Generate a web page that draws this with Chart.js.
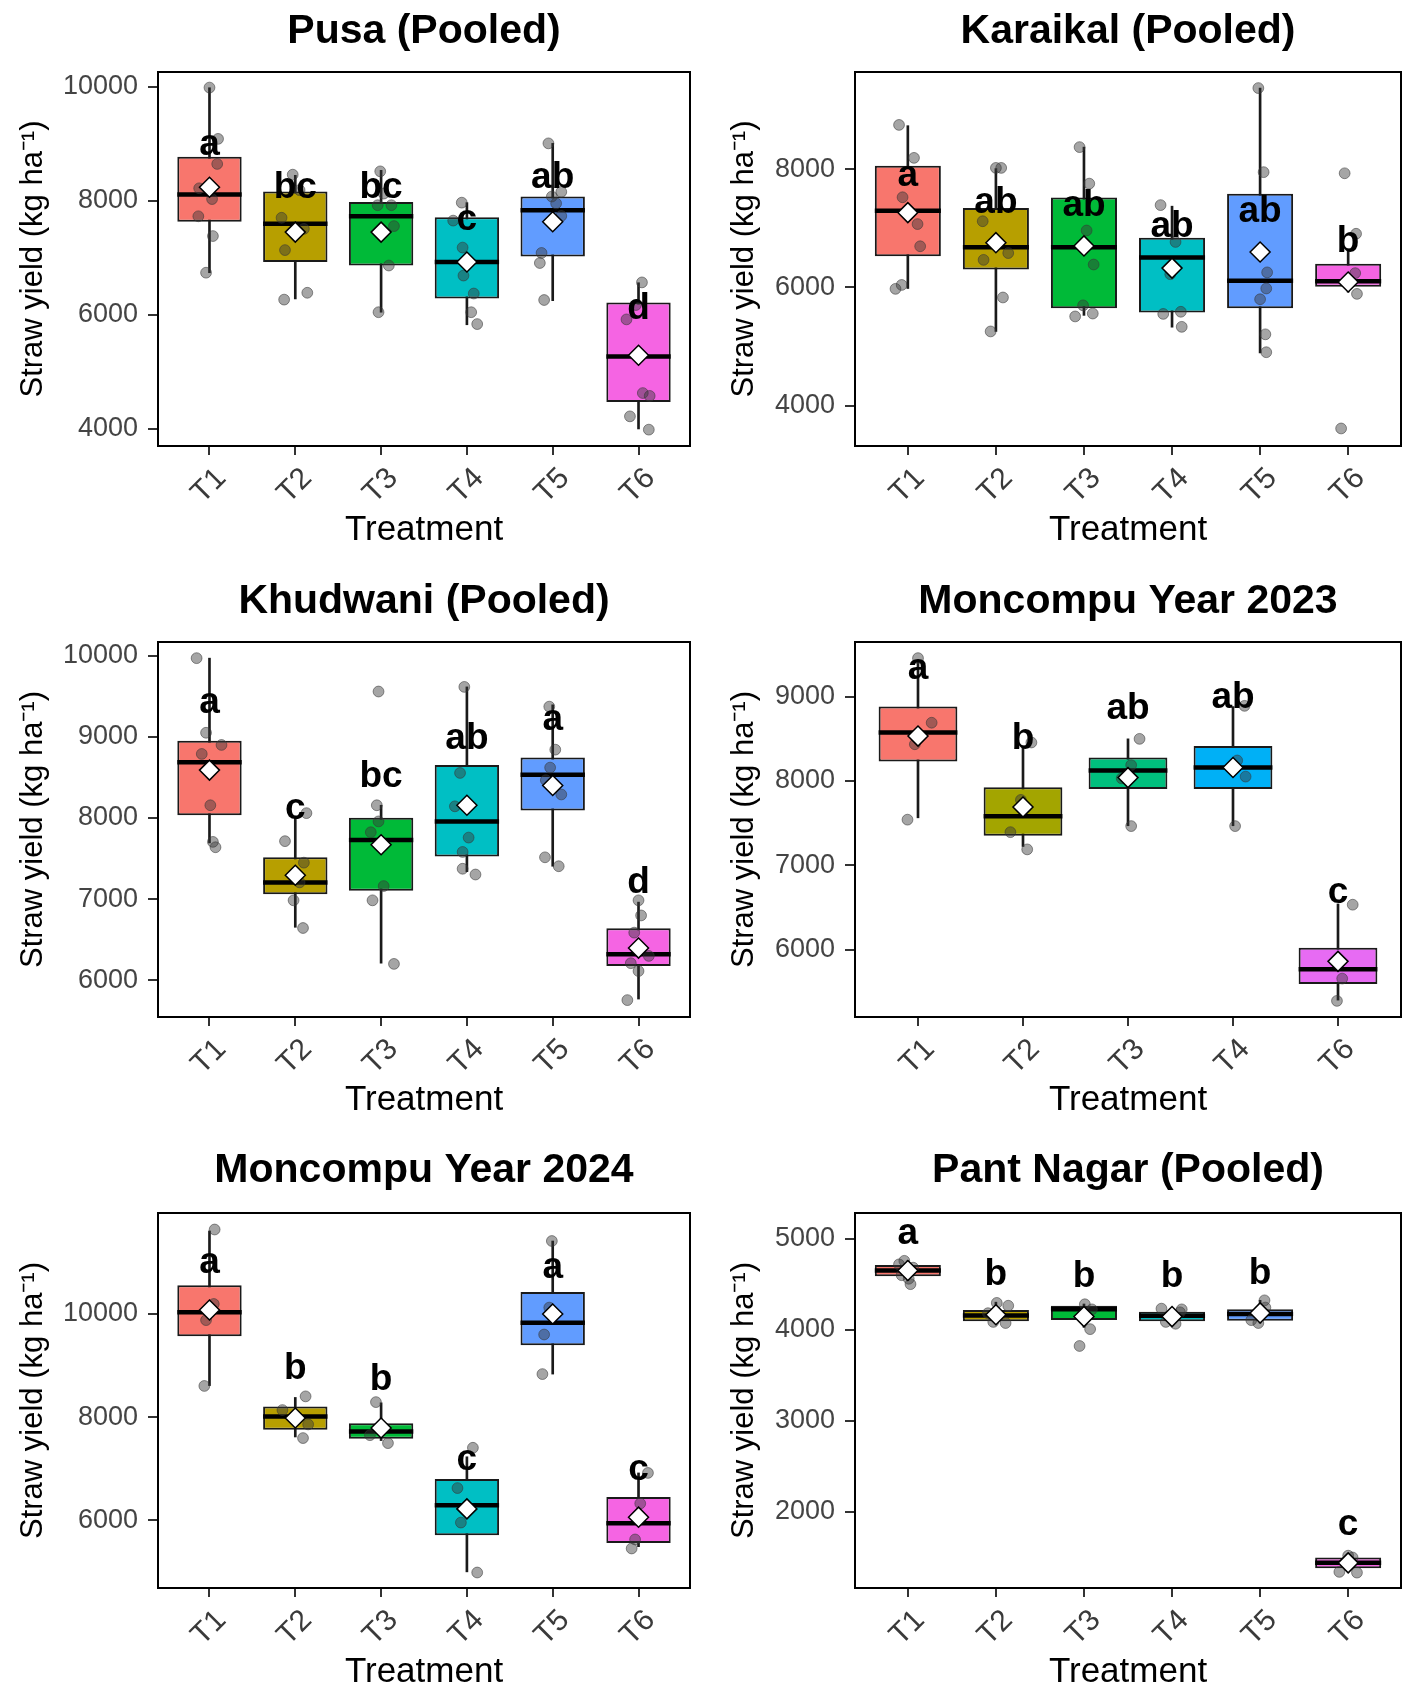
<!DOCTYPE html>
<html><head><meta charset="utf-8">
<script src="https://cdn.jsdelivr.net/npm/chart.js@4.4.0/dist/chart.umd.min.js"></script>
<style>
html,body{margin:0;padding:0;background:#fff;}
#wrap{position:relative;width:1417px;height:1697px;overflow:hidden;background:#fff;}
canvas{position:absolute;}
</style></head><body><div id="wrap">
<canvas id="c1" width="709" height="560" style="left:0px;top:0px"></canvas>
<canvas id="c2" width="708" height="560" style="left:709px;top:0px"></canvas>
<canvas id="c3" width="709" height="560" style="left:0px;top:570px"></canvas>
<canvas id="c4" width="708" height="560" style="left:709px;top:570px"></canvas>
<canvas id="c5" width="709" height="560" style="left:0px;top:1137px"></canvas>
<canvas id="c6" width="708" height="560" style="left:709px;top:1137px"></canvas>
</div>
<script>
const FONT = '"Liberation Sans", Arial, Helvetica, sans-serif';
const hue6 = ['#F8766D', '#B79F00', '#00BA38', '#00BFC4', '#619CFF', '#F564E3'];
const hue5 = ['#F8766D', '#A3A500', '#00BF7D', '#00B0F6', '#E76BF3'];
const cats6 = ['T1', 'T2', 'T3', 'T4', 'T5', 'T6'];
const cats5 = ['T1', 'T2', 'T3', 'T4', 'T6'];

// ---------- Pusa (Pooled) ----------
const pusaLow    = [6742, 6282, 6049, 5829, 6251, 4001];
const pusaQ1     = [7637, 6931, 6868, 6289, 7026, 4474];
const pusaMedian = [8116, 7599, 7732, 6931, 7839, 5274];
const pusaQ3     = [8778, 8166, 7984, 7713, 8078, 6219];
const pusaHigh   = [9987, 8450, 8538, 7971, 9011, 6566];
const pusaMean   = [8242, 7454, 7454, 6931, 7637, 5293];
const pusaLetters = ['a', 'bc', 'bc', 'c', 'ab', 'd'];
const pusaLetterY = [8979, 8223, 8223, 7675, 8412, 6112];
const pusaYTicks = [4000, 6000, 8000, 10000];
const pusaYRange = [3702, 10263];
const pusaPoints = [
  [1, 0.00, 9990], [1, 0.10, 9090], [1, 0.09, 8650], [1, -0.12, 8223], [1, 0.03, 8034], [1, -0.13, 7732], [1, 0.04, 7385], [1, -0.04, 6742],
  [2, -0.03, 8462], [2, 0.05, 8190], [2, -0.16, 7706], [2, 0.10, 7511], [2, -0.12, 7139], [2, 0.14, 6390], [2, -0.13, 6270],
  [3, -0.01, 8520], [3, 0.03, 8130], [3, -0.04, 7926], [3, 0.12, 7926], [3, 0.15, 7560], [3, 0.09, 6868], [3, -0.03, 6049],
  [4, -0.06, 7971], [4, -0.16, 7656], [4, -0.05, 7183], [4, -0.04, 6692], [4, 0.08, 6377], [4, 0.05, 6049], [4, 0.12, 5841],
  [5, -0.05, 9011], [5, 0.10, 8160], [5, -0.01, 8078], [5, 0.04, 7958], [5, 0.10, 7738], [5, -0.13, 7089], [5, -0.15, 6912], [5, -0.10, 6263],
  [6, 0.04, 6572], [6, -0.03, 6175], [6, -0.14, 5923], [6, 0.05, 4631], [6, 0.13, 4581], [6, -0.10, 4222], [6, 0.12, 3989]
];

// ---------- Karaikal (Pooled) ----------
const karLow    = [5982, 5255, 5527, 5327, 4891, 5921];
const karQ1     = [6527, 6303, 5648, 5576, 5648, 6012];
const karMedian = [7297, 6679, 6679, 6509, 6115, 6103];
const karQ3     = [8061, 7345, 7521, 6842, 7588, 6400];
const karHigh   = [8739, 8012, 8376, 7376, 9376, 6650];
const karMean   = [7267, 6758, 6703, 6327, 6600, 6091];
const karLetters = ['a', 'ab', 'ab', 'ab', 'ab', 'b'];
const karLetterY = [7891, 7430, 7376, 7030, 7273, 6770];
const karYTicks = [4000, 6000, 8000];
const karYRange = [3315, 9648];
const karPoints = [
  [1, -0.10, 8752], [1, 0.07, 8194], [1, -0.06, 7527], [1, 0.11, 7073], [1, 0.14, 6697], [1, -0.07, 6042], [1, -0.14, 5976],
  [2, 0.00, 8024], [2, 0.06, 8024], [2, -0.15, 7121], [2, -0.14, 6467], [2, 0.14, 6582], [2, 0.08, 5830], [2, -0.06, 5255],
  [3, -0.05, 8376], [3, 0.06, 7758], [3, 0.03, 6964], [3, 0.11, 6388], [3, -0.01, 5697], [3, -0.10, 5509], [3, 0.10, 5558],
  [4, -0.13, 7394], [4, 0.04, 6770], [4, -0.02, 6224], [4, -0.10, 5552], [4, 0.10, 5588], [4, 0.11, 5333],
  [5, -0.02, 9376], [5, 0.04, 7952], [5, 0.08, 6255], [5, 0.07, 5982], [5, 0.00, 5800], [5, 0.06, 5206], [5, 0.07, 4903],
  [6, -0.04, 7933], [6, 0.09, 6909], [6, 0.08, 6242], [6, 0.10, 5891], [6, -0.08, 3612]
];

// ---------- Khudwani (Pooled) ----------
const khuLow    = [7693, 6654, 6212, 7339, 7406, 5770];
const khuQ1     = [8033, 7061, 7105, 7525, 8091, 6177];
const khuMedian = [8687, 7207, 7728, 7958, 8533, 6323];
const khuQ3     = [8952, 7516, 8002, 8652, 8745, 6641];
const khuHigh   = [9969, 8000, 8157, 9615, 9394, 6964];
const khuMean   = [8590, 7295, 7671, 8157, 8400, 6398];
const khuLetters = ['a', 'c', 'bc', 'ab', 'a', 'd'];
const khuLetterY = [9417, 8113, 8510, 8975, 9204, 7207];
const khuYTicks = [6000, 7000, 8000, 9000, 10000];
const khuYRange = [5549, 10168];
const khuPoints = [
  [1, -0.15, 9969], [1, -0.04, 9050], [1, 0.14, 8900], [1, -0.09, 8789], [1, 0.01, 8157], [1, 0.04, 7706], [1, 0.07, 7640],
  [2, 0.13, 8060], [2, -0.12, 7715], [2, 0.10, 7450], [2, 0.05, 7207], [2, -0.02, 6986], [2, 0.09, 6645],
  [3, -0.03, 9558], [3, -0.05, 8157], [3, -0.03, 7958], [3, -0.12, 7825], [3, 0.03, 7162], [3, -0.10, 6986], [3, 0.15, 6203],
  [4, -0.03, 9615], [4, -0.08, 8555], [4, -0.14, 8144], [4, 0.02, 7759], [4, -0.05, 7582], [4, -0.05, 7375], [4, 0.10, 7304],
  [5, -0.04, 9372], [5, 0.03, 8842], [5, -0.03, 8621], [5, -0.08, 8466], [5, 0.10, 8290], [5, -0.09, 7516], [5, 0.07, 7406],
  [6, 0.00, 6986], [6, 0.03, 6800], [6, -0.05, 6588], [6, 0.12, 6301], [6, -0.09, 6212], [6, 0.00, 6115], [6, -0.13, 5757]
];

// ---------- Moncompu Year 2023 ----------
const m23Low    = [7564, 7224, 7470, 7470, 5405];
const m23Q1     = [8231, 7351, 7904, 7904, 5596];
const m23Median = [8575, 7581, 8125, 8159, 5770];
const m23Q3     = [8881, 7925, 8278, 8414, 6025];
const m23High   = [9433, 8414, 8499, 8881, 6544];
const m23Mean   = [8532, 7691, 8040, 8159, 5864];
const m23Letters = ['a', 'b', 'ab', 'ab', 'c'];
const m23LetterY = [9327, 8499, 8860, 8987, 6671];
const m23YTicks = [6000, 7000, 8000, 9000];
const m23YRange = [5205, 9646];
const m23Points = [
  [1, 0.00, 9455], [1, 0.13, 8690], [1, -0.03, 8435], [1, -0.10, 7542],
  [2, 0.08, 8456], [2, -0.02, 7776], [2, -0.12, 7394], [2, 0.04, 7190],
  [3, 0.11, 8499], [3, 0.03, 8188], [3, -0.06, 8031], [3, 0.03, 7466],
  [4, 0.11, 8890], [4, 0.04, 8243], [4, 0.12, 8052], [4, 0.02, 7466],
  [5, 0.14, 6535], [5, 0.04, 5660], [5, -0.01, 5396]
];

// ---------- Moncompu Year 2024 ----------
const m24Low    = [8613, 7617, 7547, 5003, 8836, 5491];
const m24Q1     = [9568, 7756, 7582, 5714, 9394, 5561];
const m24Median = [10035, 8014, 7721, 6293, 9833, 5944];
const m24Q3     = [10557, 8209, 7882, 6801, 10425, 6453];
const m24High   = [11610, 8383, 8279, 7233, 11415, 6920];
const m24Mean   = [10077, 7986, 7791, 6223, 10000, 6063];
const m24Letters = ['a', 'b', 'b', 'c', 'a', 'c'];
const m24LetterY = [10997, 8941, 8732, 7178, 10892, 6990];
const m24YTicks = [6000, 8000, 10000];
const m24YRange = [4690, 11958];
const m24Points = [
  [1, 0.06, 11638], [1, 0.05, 10195], [1, -0.04, 9882], [1, -0.06, 8606],
  [2, 0.12, 8404], [2, -0.15, 8139], [2, 0.15, 7861], [2, 0.09, 7596],
  [3, -0.06, 8293], [3, -0.13, 7652], [3, 0.08, 7498],
  [4, 0.07, 7408], [4, -0.11, 6627], [4, -0.07, 5958], [4, 0.12, 4990],
  [5, -0.01, 11415], [5, -0.04, 10125], [5, -0.10, 9603], [5, -0.12, 8836],
  [6, 0.11, 6920], [6, 0.02, 6328], [6, -0.04, 5631], [6, -0.08, 5456]
];

// ---------- Pant Nagar (Pooled) ----------
const pantLow    = [4538, 4064, 4025, 4053, 4072, 1340];
const pantQ1     = [4585, 4092, 4104, 4092, 4096, 1380];
const pantMedian = [4649, 4155, 4222, 4151, 4171, 1439];
const pantQ3     = [4708, 4214, 4262, 4195, 4222, 1498];
const pantHigh   = [4755, 4301, 4281, 4234, 4321, 1538];
const pantMean   = [4649, 4163, 4143, 4143, 4183, 1439];
const pantLetters = ['a', 'b', 'b', 'b', 'b', 'c'];
const pantLetterY = [5051, 4597, 4578, 4578, 4609, 1854];
const pantYTicks = [2000, 3000, 4000, 5000];
const pantYRange = [1163, 5280];
const pantPoints = [
  [1, -0.04, 4755], [1, -0.10, 4716], [1, 0.06, 4680], [1, -0.07, 4597], [1, 0.01, 4558], [1, 0.03, 4499],
  [2, 0.01, 4293], [2, 0.14, 4262], [2, -0.09, 4180], [2, -0.03, 4084], [2, 0.11, 4072],
  [3, 0.01, 4278], [3, 0.09, 4222], [3, -0.01, 4143], [3, 0.07, 4005], [3, -0.05, 3820],
  [4, -0.12, 4230], [4, 0.11, 4222], [4, 0.09, 4190], [4, -0.07, 4084], [4, 0.04, 4064],
  [5, 0.05, 4321], [5, 0.06, 4242], [5, -0.10, 4104], [5, -0.02, 4072],
  [6, 0.00, 1518], [6, 0.05, 1498], [6, -0.10, 1340], [6, 0.10, 1332]
];

// ---------- drawing ----------
const decoPlugin = {
  id: 'deco',
  afterDatasetsDraw(chart, args, opts) {
    const {ctx, scales: {x, y}} = chart;
    ctx.save();
    ctx.fillStyle = '#000';
    ctx.font = 'bold 37px ' + FONT;
    ctx.textAlign = 'center';
    ctx.textBaseline = 'middle';
    opts.letters.forEach((t, i) => {
      ctx.fillText(t, x.getPixelForValue(i + 1), y.getPixelForValue(opts.letterY[i]));
    });
    ctx.restore();
  },
  afterDraw(chart, args, opts) {
    const {ctx, chartArea: a} = chart;
    ctx.save();
    ctx.strokeStyle = '#000';
    ctx.lineWidth = 2;
    ctx.strokeRect(a.left, a.top, a.right - a.left, a.bottom - a.top);
    ctx.fillStyle = '#000';
    ctx.font = 'bold 41px ' + FONT;
    ctx.textAlign = 'center';
    ctx.textBaseline = 'middle';
    ctx.fillText(opts.title, (a.left + a.right) / 2, opts.titleY);
    ctx.restore();
  }
};

function buildPanel(id, p) {
  const n = p.cats.length;
  const idx = p.cats.map((_, i) => i + 1);
  const halfBox = (chart) => {
    const sx = chart.scales && chart.scales.x;
    if (!sx) return 30;
    return 0.375 * (sx.getPixelForValue(2) - sx.getPixelForValue(1));
  };
  new Chart(document.getElementById(id), {
    type: 'bar',
    data: {
      datasets: [
        {type: 'bar', data: idx.map((v, i) => ({x: v, y: [p.low[i], p.high[i]]})),
         backgroundColor: '#1a1a1a', borderWidth: 0, barThickness: 2, grouped: false, order: 5},
        {type: 'bar', data: idx.map((v, i) => ({x: v, y: [p.q1[i], p.q3[i]]})),
         backgroundColor: p.colors, borderColor: '#1a1a1a', borderWidth: 2, borderSkipped: false,
         barPercentage: 0.75, categoryPercentage: 1, grouped: false, order: 4},
        {type: 'scatter', data: idx.map((v, i) => ({x: v, y: p.median[i]})),
         pointStyle: 'line', borderColor: '#000', borderWidth: 4.5,
         pointRadius: (c) => halfBox(c.chart), order: 3},
        {type: 'scatter', data: p.points.map(([c, j, v]) => ({x: c + j, y: v})),
         backgroundColor: 'rgba(55,55,55,0.45)', borderColor: 'rgba(55,55,55,0.55)', borderWidth: 1,
         pointRadius: 5.4, order: 2},
        {type: 'scatter', data: idx.map((v, i) => ({x: v, y: p.mean[i]})),
         pointStyle: 'rectRot', pointRadius: 10, backgroundColor: '#fff', borderColor: '#000',
         borderWidth: 1.5, order: 1}
      ]
    },
    options: {
      responsive: false, animation: false, devicePixelRatio: 1, events: [],
      layout: {padding: {top: p.plotTop, right: p.padRight, left: 0, bottom: 0}},
      plugins: {
        legend: {display: false}, tooltip: {enabled: false}, title: {display: false},
        deco: {letters: p.letters, letterY: p.letterY, title: p.title, titleY: p.titleY}
      },
      scales: {
        x: {
          type: 'linear', min: 0.4, max: n + 0.6, offset: false,
          afterBuildTicks: (s) => { s.ticks = idx.map(v => ({value: v})); },
          afterFit: (s) => { s.height = p.xAxisH; s.paddingLeft = 0; s.paddingRight = 0; },
          ticks: {callback: (v) => p.cats[Math.round(v) - 1] || '', minRotation: 45, maxRotation: 45,
                  autoSkip: false, font: {family: FONT, size: 30}, color: '#3a3a3a', padding: 6, labelOffset: 12},
          grid: {display: true, offset: false, drawOnChartArea: false, drawTicks: true, tickLength: 9, color: '#333', lineWidth: 2},
          border: {display: false},
          title: {display: true, text: 'Treatment', color: '#000', font: {family: FONT, size: 35},
                  padding: {top: 0, bottom: p.xTitlePad}}
        },
        y: {
          type: 'linear', min: p.yRange[0], max: p.yRange[1],
          afterBuildTicks: (s) => { s.ticks = p.yTicks.map(v => ({value: v})); },
          afterFit: (s) => { s.width = p.plotLeft; s.paddingTop = 0; s.paddingBottom = 0; },
          ticks: {callback: (v) => String(v), font: {family: FONT, size: 27}, color: '#444', padding: 10},
          grid: {display: true, offset: false, drawOnChartArea: false, drawTicks: true, tickLength: 10, color: '#333', lineWidth: 2},
          border: {display: false},
          title: {display: true, text: 'Straw yield (kg ha\u207B\u00B9)', color: '#000', font: {family: FONT, size: 31},
                  padding: {top: p.yTitlePad, bottom: 0}}
        }
      }
    },
    plugins: [decoPlugin]
  });
}

const leftCol = {plotLeft: 158, padRight: 19, yTitlePad: 15};
const rightCol = {plotLeft: 146, padRight: 16, yTitlePad: 17};
const row1 = {plotTop: 72, xAxisH: 114, xTitlePad: 9, titleY: 32};
const row2 = {plotTop: 72, xAxisH: 113, xTitlePad: 9, titleY: 32};
const row3 = {plotTop: 76, xAxisH: 109, xTitlePad: 4, titleY: 34};

buildPanel('c1', Object.assign({title: 'Pusa (Pooled)', cats: cats6, colors: hue6,
  low: pusaLow, q1: pusaQ1, median: pusaMedian, q3: pusaQ3, high: pusaHigh, mean: pusaMean,
  letters: pusaLetters, letterY: pusaLetterY, yTicks: pusaYTicks, yRange: pusaYRange, points: pusaPoints}, leftCol, row1));
buildPanel('c2', Object.assign({title: 'Karaikal (Pooled)', cats: cats6, colors: hue6,
  low: karLow, q1: karQ1, median: karMedian, q3: karQ3, high: karHigh, mean: karMean,
  letters: karLetters, letterY: karLetterY, yTicks: karYTicks, yRange: karYRange, points: karPoints}, rightCol, row1));
buildPanel('c3', Object.assign({title: 'Khudwani (Pooled)', cats: cats6, colors: hue6,
  low: khuLow, q1: khuQ1, median: khuMedian, q3: khuQ3, high: khuHigh, mean: khuMean,
  letters: khuLetters, letterY: khuLetterY, yTicks: khuYTicks, yRange: khuYRange, points: khuPoints}, leftCol, row2));
buildPanel('c4', Object.assign({title: 'Moncompu Year 2023', cats: cats5, colors: hue5,
  low: m23Low, q1: m23Q1, median: m23Median, q3: m23Q3, high: m23High, mean: m23Mean,
  letters: m23Letters, letterY: m23LetterY, yTicks: m23YTicks, yRange: m23YRange, points: m23Points}, rightCol, row2));
buildPanel('c5', Object.assign({title: 'Moncompu Year 2024', cats: cats6, colors: hue6,
  low: m24Low, q1: m24Q1, median: m24Median, q3: m24Q3, high: m24High, mean: m24Mean,
  letters: m24Letters, letterY: m24LetterY, yTicks: m24YTicks, yRange: m24YRange, points: m24Points}, leftCol, row3));
buildPanel('c6', Object.assign({title: 'Pant Nagar (Pooled)', cats: cats6, colors: hue6,
  low: pantLow, q1: pantQ1, median: pantMedian, q3: pantQ3, high: pantHigh, mean: pantMean,
  letters: pantLetters, letterY: pantLetterY, yTicks: pantYTicks, yRange: pantYRange, points: pantPoints}, rightCol, row3));
</script>
</body></html>
